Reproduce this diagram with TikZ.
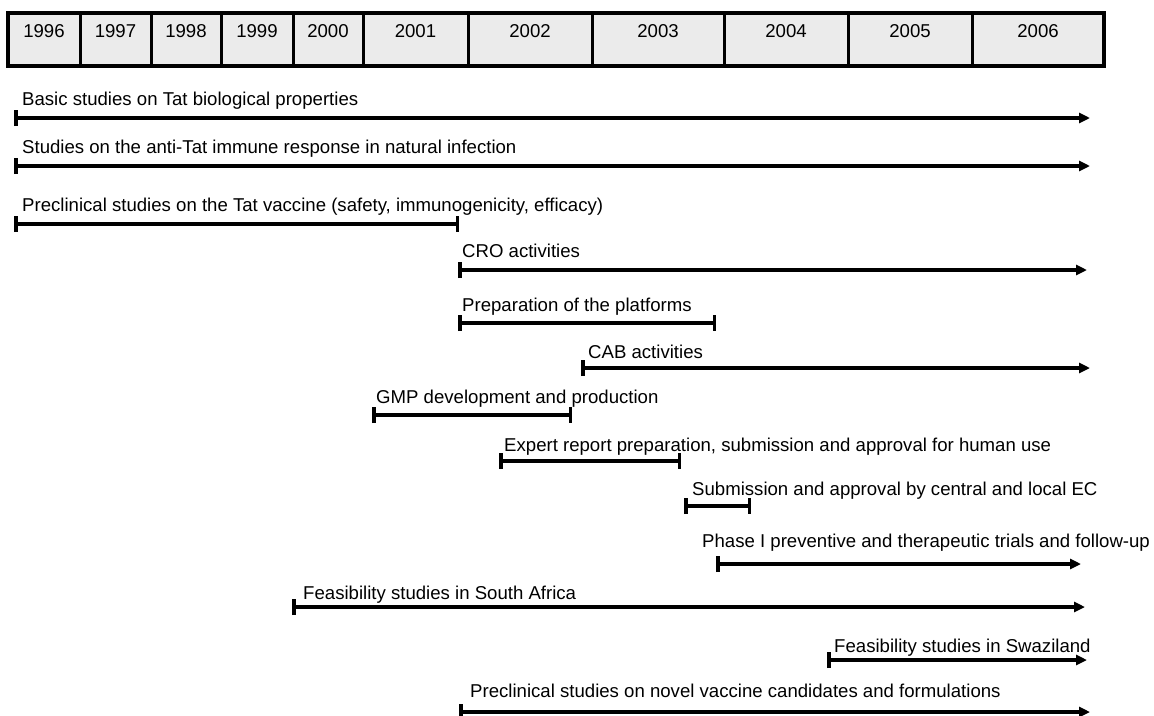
\documentclass[tikz,border=0pt]{standalone}
\usepackage{fontspec}
\setmainfont{Liberation Sans}
\usetikzlibrary{positioning,arrows.meta}

\begin{document}
\begin{tikzpicture}
  [x=1pt,y=-1pt,font=\fontsize{18.6}{22}\selectfont,
   yr/.style={draw,fill=black!8,line width=3pt,inner sep=0pt,outer sep=0pt,
     text height=24pt,text depth=29pt},
   lbl/.style={anchor=base west,inner sep=0pt},
   endbar/.style={line width=3.5pt,
     {Bar[width=16pt,line width=3.5pt]}-{Bar[width=16pt,line width=3.5pt]}},
   ongoing/.style={line width=3.5pt,
     {Bar[width=16pt,line width=3.5pt]}-{Triangle[length=11pt,width=10pt]}}]
  \useasboundingbox (0,0) rectangle (1154,715);
  % year header
  \node[yr,minimum width=72pt] (y1996) at (44,39.5) {1996};
  \node[yr,minimum width=71pt,right=0pt of y1996] (y1997) {1997};
  \node[yr,minimum width=70pt,right=0pt of y1997] (y1998) {1998};
  \node[yr,minimum width=72pt,right=0pt of y1998] (y1999) {1999};
  \node[yr,minimum width=70pt,right=0pt of y1999] (y2000) {2000};
  \node[yr,minimum width=105pt,right=0pt of y2000] (y2001) {2001};
  \node[yr,minimum width=124pt,right=0pt of y2001] (y2002) {2002};
  \node[yr,minimum width=132pt,right=0pt of y2002] (y2003) {2003};
  \node[yr,minimum width=124pt,right=0pt of y2003] (y2004) {2004};
  \node[yr,minimum width=124pt,right=0pt of y2004] (y2005) {2005};
  \node[yr,minimum width=132pt,right=0pt of y2005] (y2006) {2006};
  \draw[line width=3.5pt] (y1996.north west) rectangle (y2006.south east);
  % activities
  \coordinate (basic-s) at (14,118); \coordinate (basic-e) at (1090,118);
  \node[lbl] (basic) at (22,105) {Basic studies on Tat biological properties};
  \coordinate (immune-s) at (14,166); \coordinate (immune-e) at (1090,166);
  \node[lbl] (immune) at (22,153) {Studies on the anti-Tat immune response in natural infection};
  \coordinate (pretat-s) at (14,224); \coordinate (pretat-e) at (459,224);
  \node[lbl] (pretat) at (22,211) {Preclinical studies on the Tat vaccine (safety, immunogenicity, efficacy)};
  \coordinate (cro-s) at (458,270); \coordinate (cro-e) at (1087,270);
  \node[lbl] (cro) at (462,257) {CRO activities};
  \coordinate (prep-s) at (458,323); \coordinate (prep-e) at (716,323);
  \node[lbl] (prep) at (462,311) {Preparation of the platforms};
  \coordinate (cab-s) at (581,368); \coordinate (cab-e) at (1090,368);
  \node[lbl] (cab) at (588,358) {CAB activities};
  \coordinate (gmp-s) at (372,415); \coordinate (gmp-e) at (572,415);
  \node[lbl] (gmp) at (376,403) {GMP development and production};
  \coordinate (expert-s) at (499,461); \coordinate (expert-e) at (681,461);
  \node[lbl] (expert) at (504,451) {Expert report preparation, submission and approval for human use};
  \coordinate (ec-s) at (684,506); \coordinate (ec-e) at (751,506);
  \node[lbl] (ec) at (692,495) {Submission and approval by central and local EC};
  \coordinate (phase-s) at (716,564); \coordinate (phase-e) at (1081,564);
  \node[lbl] (phase) at (702,547) {Phase I preventive and therapeutic trials and follow-up};
  \coordinate (safr-s) at (292,607); \coordinate (safr-e) at (1085,607);
  \node[lbl] (safr) at (303,599) {Feasibility studies in South Africa};
  \coordinate (swaz-s) at (827,660); \coordinate (swaz-e) at (1087,660);
  \node[lbl] (swaz) at (834,652) {Feasibility studies in Swaziland};
  \coordinate (novel-s) at (459,712); \coordinate (novel-e) at (1090,712);
  \node[lbl] (novel) at (470,697) {Preclinical studies on novel vaccine candidates and formulations};
  \draw[ongoing] (basic-s) -- (basic-e);
  \draw[ongoing] (immune-s) -- (immune-e);
  \draw[endbar] (pretat-s) -- (pretat-e);
  \draw[ongoing] (cro-s) -- (cro-e);
  \draw[endbar] (prep-s) -- (prep-e);
  \draw[ongoing] (cab-s) -- (cab-e);
  \draw[endbar] (gmp-s) -- (gmp-e);
  \draw[endbar] (expert-s) -- (expert-e);
  \draw[endbar] (ec-s) -- (ec-e);
  \draw[ongoing] (phase-s) -- (phase-e);
  \draw[ongoing] (safr-s) -- (safr-e);
  \draw[ongoing] (swaz-s) -- (swaz-e);
  \draw[ongoing] (novel-s) -- (novel-e);
\end{tikzpicture}
\end{document}
